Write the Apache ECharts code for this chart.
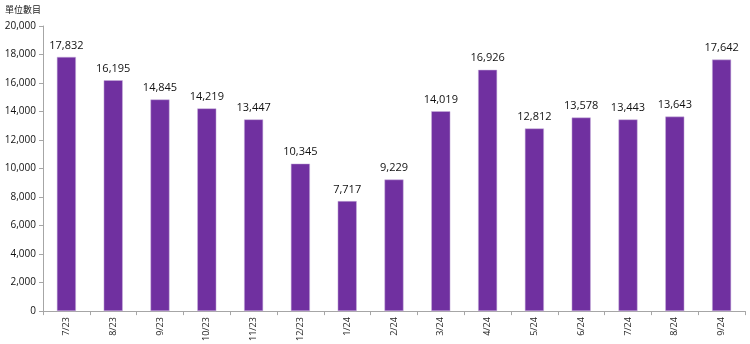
<!DOCTYPE html>
<html><head><meta charset="utf-8">
<script src="https://cdn.jsdelivr.net/npm/echarts@6/dist/echarts.min.js"></script>
<style>html,body{margin:0;padding:0;background:#fff}#c{width:750px;height:344px}</style>
</head><body><div id="c"></div>
<script>
const categories = ['7/23','8/23','9/23','10/23','11/23','12/23','1/24','2/24','3/24','4/24','5/24','6/24','7/24','8/24','9/24'];
const values = [17832,16195,14845,14219,13447,10345,7717,9229,14019,16926,12812,13578,13443,13643,17642];
const unitLabel = '單位數目';
const chart = echarts.init(document.getElementById('c'));
chart.setOption({
  animation:false,
  textStyle:{fontFamily:'"Open Sans","Noto Sans CJK TC",sans-serif'},
  title:{text:unitLabel,left:5,top:5,padding:0,textStyle:{fontSize:9,fontWeight:'normal',color:'#222',fontFamily:'"Noto Sans CJK TC",sans-serif'}},
  grid:{left:43,right:5,top:26,bottom:32},
  xAxis:{type:'category',data:categories,
    axisLine:{lineStyle:{color:'#a6a6a6'}},
    axisTick:{show:true,alignWithLabel:false,length:4,lineStyle:{color:'#a6a6a6'}},
    axisLabel:{rotate:90,fontSize:9,color:'#222',margin:6}},
  yAxis:{type:'value',min:0,max:20000,interval:2000,
    axisLine:{show:true,lineStyle:{color:'#a6a6a6'}},
    axisTick:{show:true,length:4,lineStyle:{color:'#a6a6a6'}},
    splitLine:{show:false},
    axisLabel:{fontSize:10,color:'#111',margin:7,formatter:v=>v.toLocaleString('en-US')}},
  series:[{type:'bar',data:values,barWidth:19,
    itemStyle:{color:'#7030A0',borderColor:'#c9b3dc',borderWidth:0.5},
    label:{show:true,position:'top',distance:6,fontSize:11,color:'#111',formatter:p=>p.value.toLocaleString('en-US')}}]
});
</script></body></html>
